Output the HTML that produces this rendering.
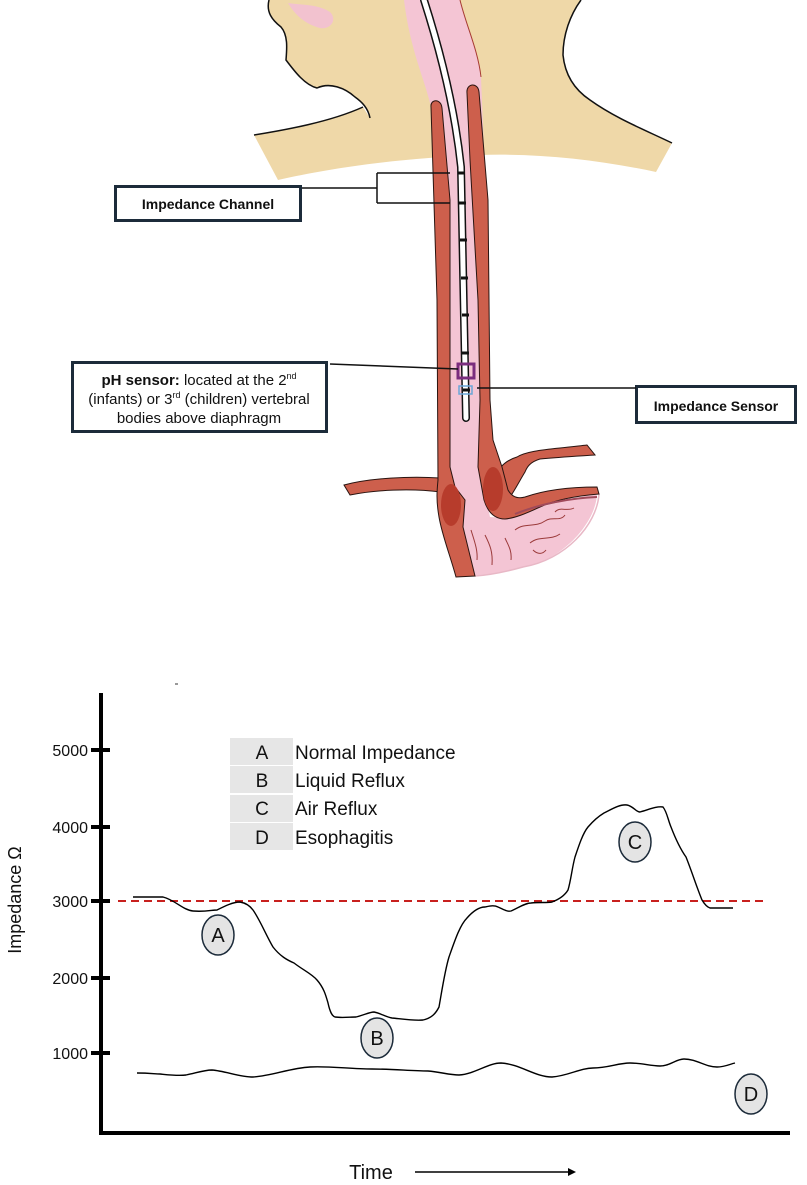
<!DOCTYPE html>
<html><head><meta charset="utf-8"><style>
html,body{margin:0;padding:0;background:#fff;}
svg{display:block;}
text{font-family:"Liberation Sans",Arial,sans-serif;}
</style></head><body>
<svg width="807" height="1185" viewBox="0 0 807 1185" xmlns="http://www.w3.org/2000/svg">
<!-- beige neck/head -->
<path d="M269,0 L581,0 C570,15 563,35 563,55 C565,75 575,90 590,100 C615,118 645,130 672,143 L656,172 C600,160 540,153 480,155 C400,158 330,168 278,180 L254,135 C285,130 330,122 363,107 L370,118 C368,108 362,102 355,97 C345,88 330,82 317,88 C305,85 295,72 286,60 C287,48 288,35 281,27 C272,20 266,12 269,0 Z" fill="#efd8a8"/>
<path d="M269,0 C266,12 272,20 281,27 C288,35 287,48 286,60 C295,72 305,85 317,88 C330,82 345,88 355,97 C362,102 368,108 370,118" fill="none" stroke="#111" stroke-width="1.5"/>
<path d="M254,135 C285,130 330,122 363,107" fill="none" stroke="#111" stroke-width="1.5"/>
<path d="M581,0 C570,15 563,35 563,55 C565,75 575,90 590,100 C615,118 645,130 672,143" fill="none" stroke="#111" stroke-width="1.5"/>
<path d="M288,3 C300,5 318,4 330,12 C338,20 330,30 320,28 C305,24 295,15 288,3 Z" fill="#f2c2cf"/>
<!-- pharynx / lumen / stomach pink -->
<path d="M404,0 L460,0 C466,25 478,50 481,77 L486,200 L482,400 L480,467 L490,517 L507,518 L540,507 L597,493 C597,520 565,560 523,567 C505,572 490,575 475,575 L463,527 L465,500 L455,487 L450,467 L448,200 L431,107 C425,80 410,50 404,0 Z" fill="#f4c5d4"/>
<path d="M460,0 C466,25 478,50 481,77" fill="none" stroke="#a63a32" stroke-width="1"/>
<path d="M599,494 C597,525 565,560 523,567 C505,572 490,575 475,576" fill="none" stroke="#e8b8c6" stroke-width="1.5"/>
<!-- left diaphragm branch -->
<path d="M344,485 C370,478 410,476 440,478 L441,492 C410,488 375,490 350,495 Z" fill="#cd5f4c" stroke="#2a1410" stroke-width="1"/>
<!-- right diaphragm branch -->
<path d="M500,468 C505,462 510,459 517,457 C525,452 540,450 560,448 C570,447 578,446 587,445 L595,455 C580,456 560,457 540,459 C530,462 527,467 525,472 C520,480 515,490 510,497 Z" fill="#cd5f4c" stroke="#2a1410" stroke-width="1"/>
<!-- left wall -->
<path d="M431,107 C430,99 441,98 442,108 L450,200 L450,467 L455,487 L465,500 L463,527 L475,576 L456,577 C450,555 442,535 439,517 C436,500 437,490 438,480 L437,300 Z" fill="#cd5f4c" stroke="#2a1410" stroke-width="1"/>
<ellipse cx="451" cy="505" rx="10" ry="21" fill="#b73c2c"/>
<!-- right wall -->
<path d="M467,93 C466,83 478,82 479,92 L488,200 L490,400 L493,440 L502,467 L508,490 C512,497 518,499 525,497 C545,490 570,487 597,487 L599,494 C575,496 555,500 540,507 C525,514 515,518 505,519 C495,519 488,513 484,500 L478,467 L480,400 L478,300 L470,160 Z" fill="#cd5f4c" stroke="#2a1410" stroke-width="1"/>
<ellipse cx="493" cy="489" rx="10" ry="22" fill="#b73c2c"/>
<path d="M515,514 C540,504 570,498 597,497" fill="none" stroke="#a04a5a" stroke-width="2"/>
<!-- squiggles -->
<g fill="none" stroke="#9b3a3a" stroke-width="1">
<path d="M515,530 C525,522 535,528 545,521 C552,516 560,522 565,515"/>
<path d="M530,543 C540,535 550,541 560,534"/>
<path d="M555,512 C560,506 567,512 574,508"/>
<path d="M471,530 C474,540 478,550 477,560"/>
<path d="M485,535 C490,545 493,552 492,565"/>
<path d="M505,538 C508,545 512,550 511,560"/>
<path d="M533,550 C538,555 543,554 546,550"/>
</g>
<!-- catheter -->
<path d="M424,0 C440,50 455,110 461,167 L466,418" fill="none" stroke="#111" stroke-width="8" stroke-linecap="round"/>
<path d="M424,0 C440,50 455,110 461,167 L466,418" fill="none" stroke="#fff" stroke-width="5" stroke-linecap="round"/>
<g stroke="#111" stroke-width="3">
<line x1="458" y1="173" x2="465" y2="173"/>
<line x1="459" y1="203" x2="466" y2="203"/>
<line x1="460" y1="240" x2="467" y2="240"/>
<line x1="461" y1="278" x2="468" y2="278"/>
<line x1="462" y1="315" x2="469" y2="315"/>
<line x1="462" y1="353" x2="469" y2="353"/>
<line x1="463" y1="390" x2="470" y2="390"/>
</g>
<rect x="458" y="364" width="16" height="14" fill="none" stroke="#7b2d7e" stroke-width="3"/>
<rect x="459" y="386" width="13" height="8" fill="none" stroke="#6aa6d8" stroke-width="1.5"/>
<!-- labels -->
<rect x="115.5" y="186.5" width="185" height="34" fill="#fff" stroke="#1c2b3a" stroke-width="3"/>
<text x="208" y="209" font-size="14" font-weight="bold" text-anchor="middle" fill="#111">Impedance Channel</text>
<path d="M302,188 L377,188 M377,173 L377,203 M377,173 L450,173 M377,203 L450,203" stroke="#111" stroke-width="1.5" fill="none"/>
<rect x="72.5" y="362.5" width="254" height="69" fill="#fff" stroke="#1c2b3a" stroke-width="3"/>
<text x="199" y="385" font-size="15" text-anchor="middle" fill="#111"><tspan font-weight="bold">pH sensor:</tspan>  located  at the 2<tspan font-size="9" dy="-6">nd</tspan></text>
<text x="199" y="404" font-size="15" text-anchor="middle" fill="#111">(infants) or 3<tspan font-size="9" dy="-6">rd</tspan><tspan dy="6"> (children) vertebral</tspan></text>
<text x="199" y="423" font-size="15" text-anchor="middle" fill="#111">bodies above diaphragm</text>
<path d="M330,364 L458,369" stroke="#111" stroke-width="1.5"/>
<rect x="636.5" y="386.5" width="159" height="36" fill="#fff" stroke="#1c2b3a" stroke-width="3"/>
<text x="716" y="411" font-size="14" font-weight="bold" text-anchor="middle" fill="#111">Impedance Sensor</text>
<path d="M477,388 L636,388" stroke="#111" stroke-width="1.5"/>

<!-- CHART -->
<line x1="175" y1="684" x2="178" y2="684" stroke="#333" stroke-width="1"/>
<line x1="101" y1="693" x2="101" y2="1135" stroke="#000" stroke-width="4"/>
<line x1="99" y1="1133" x2="790" y2="1133" stroke="#000" stroke-width="4"/>
<g stroke="#000" stroke-width="4">
<line x1="91" y1="750" x2="110" y2="750"/>
<line x1="91" y1="827" x2="110" y2="827"/>
<line x1="91" y1="901" x2="110" y2="901"/>
<line x1="91" y1="978" x2="110" y2="978"/>
<line x1="91" y1="1053" x2="110" y2="1053"/>
</g>
<g font-size="16" text-anchor="end" fill="#111">
<text x="88" y="756">5000</text>
<text x="88" y="833">4000</text>
<text x="88" y="907">3000</text>
<text x="88" y="984">2000</text>
<text x="88" y="1059">1000</text>
</g>
<text transform="translate(21,900) rotate(-90)" font-size="18" text-anchor="middle" fill="#111">Impedance Ω</text>
<g fill="#e6e6e6">
<rect x="230" y="738" width="63" height="27"/>
<rect x="230" y="766" width="63" height="27"/>
<rect x="230" y="795" width="63" height="27"/>
<rect x="230" y="823" width="63" height="27"/>
</g>
<g font-size="19" fill="#111">
<text x="262" y="759" text-anchor="middle">A</text>
<text x="262" y="787" text-anchor="middle">B</text>
<text x="262" y="815" text-anchor="middle">C</text>
<text x="262" y="844" text-anchor="middle">D</text>
<text x="295" y="759">Normal Impedance</text>
<text x="295" y="787">Liquid Reflux</text>
<text x="295" y="815">Air Reflux</text>
<text x="295" y="844">Esophagitis</text>
</g>
<line x1="118" y1="901" x2="765" y2="901" stroke="#c8201e" stroke-width="2" stroke-dasharray="8,5"/>
<path d="M133,897 L163,897 C175,900 183,910 193,911 C205,912 212,910 217,910 C225,906 233,902 240,902 C246,903 250,906 253,910 C260,920 266,935 273,947 C280,956 287,960 294,963 C303,970 312,974 317,980 C324,988 326,996 328,1003 C330,1012 332,1016 335,1017 C342,1018 350,1017 356,1017 C364,1015 370,1012 374,1012 C380,1013 386,1017 392,1018 C402,1019 415,1021 423,1020 C432,1018 436,1013 439,1007 C442,990 445,970 449,957 C455,940 460,925 467,918 C474,910 480,907 485,907 C490,906 494,905 498,907 C503,909 507,912 511,911 C518,908 525,903 531,903 C540,902 546,903 552,902 C560,899 565,895 568,890 C571,880 572,868 575,857 C579,845 583,833 588,827 C594,820 599,816 604,813 C612,809 620,804 627,805 C633,806 636,812 640,812 C648,810 656,806 663,807 C667,812 668,820 671,827 C676,840 681,850 686,857 C692,872 697,888 702,900 C705,905 707,907 710,908 L733,908" fill="none" stroke="#000" stroke-width="1.4"/>
<path d="M137,1073 C150,1073 155,1074 160,1074 C170,1075 178,1076 186,1075 C196,1073 204,1070 212,1070 C225,1071 240,1077 253,1077 C272,1076 290,1068 310,1067 C330,1066 350,1069 372,1069 C395,1069 410,1071 428,1071 C440,1072 450,1075 459,1075 C475,1074 488,1063 501,1063 C520,1064 535,1077 552,1077 C568,1076 580,1068 593,1068 C608,1068 618,1063 630,1063 C642,1063 650,1066 660,1066 C670,1066 676,1059 684,1059 C697,1059 705,1067 717,1067 C725,1067 730,1064 735,1063" fill="none" stroke="#000" stroke-width="1.4"/>
<g fill="#e4e4e4" stroke="#1c2b3a" stroke-width="1.5">
<ellipse cx="218" cy="935" rx="16" ry="20"/>
<ellipse cx="377" cy="1038" rx="16" ry="20"/>
<ellipse cx="635" cy="842" rx="16" ry="20"/>
<ellipse cx="751" cy="1094" rx="16" ry="20"/>
</g>
<g font-size="20" text-anchor="middle" fill="#111">
<text x="218" y="942">A</text>
<text x="377" y="1045">B</text>
<text x="635" y="849">C</text>
<text x="751" y="1101">D</text>
</g>
<text x="371" y="1179" font-size="20" text-anchor="middle" fill="#111">Time</text>
<line x1="415" y1="1172" x2="570" y2="1172" stroke="#000" stroke-width="1.5"/>
<path d="M568,1168 L576,1172 L568,1176 Z" fill="#000"/>
</svg>
</body></html>
